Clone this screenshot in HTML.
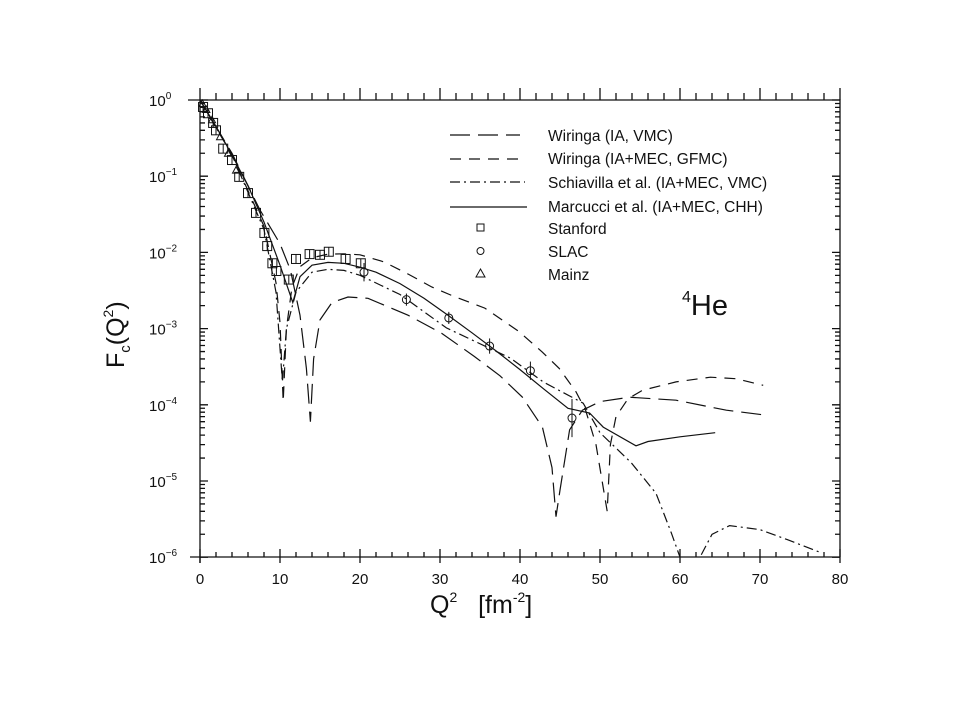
<!DOCTYPE html>
<html><head><meta charset="utf-8"><style>
body{margin:0;background:#fff}
svg text{font-family:"Liberation Sans",sans-serif;fill:#111}
</style></head><body>
<svg id="c" width="960" height="720" viewBox="0 0 960 720" xmlns="http://www.w3.org/2000/svg">
<defs><clipPath id="pa"><rect x="200" y="100" width="640" height="457"/></clipPath></defs>
<rect width="960" height="720" fill="#fff"/>
<g id="axes" stroke="#111" stroke-width="1.3" fill="none"></g>
<g id="series" clip-path="url(#pa)" fill="none" stroke="#111" stroke-width="1.2"></g>
<g id="pts" fill="none" stroke="#111" stroke-width="1"></g>
<g>
 <line x1="450" y1="135" x2="520" y2="135" stroke="#111" stroke-width="1.2" stroke-dasharray="20,8"/>
 <line x1="450" y1="159" x2="520" y2="159" stroke="#111" stroke-width="1.2" stroke-dasharray="11,8"/>
 <line x1="450" y1="182" x2="525" y2="182" stroke="#111" stroke-width="1.2" stroke-dasharray="10,4,2,4"/>
 <line x1="450" y1="207" x2="527" y2="207" stroke="#111" stroke-width="1.2"/>
 <rect x="477" y="224" width="7" height="7" fill="none" stroke="#111"/>
 <circle cx="480.5" cy="251" r="3.5" fill="none" stroke="#111"/>
 <path d="M476,277 L480.5,269 L485,277 Z" fill="none" stroke="#111"/>
 <g font-size="15.5" style="font-weight:500">
  <text x="548" y="141">Wiringa  (IA,  VMC)</text>
  <text x="548" y="164">Wiringa  (IA+MEC,  GFMC)</text>
  <text x="548" y="188">Schiavilla  et  al.  (IA+MEC,  VMC)</text>
  <text x="548" y="212">Marcucci  et  al.  (IA+MEC,  CHH)</text>
  <text x="548" y="234">Stanford</text>
  <text x="548" y="257">SLAC</text>
  <text x="548" y="280">Mainz</text>
 </g>
</g>
<text x="682" y="315" font-size="29"><tspan font-size="16" dy="-13">4</tspan><tspan dy="13">He</tspan></text>
<text x="430" y="613" font-size="25">Q<tspan font-size="14" dy="-11">2</tspan><tspan dy="11" xml:space="preserve">   [fm</tspan><tspan font-size="14" dy="-11">-2</tspan><tspan dy="11">]</tspan></text>
<text transform="translate(124,368) rotate(-90)" font-size="25">F<tspan font-size="15" dy="6">c</tspan><tspan dy="-6">(Q</tspan><tspan font-size="14" dy="-11">2</tspan><tspan dy="11">)</tspan></text>
</svg>
<script>
const marcucciQ=[0,2,4,6,8,10,11.6,12.5,14,16,18,20,22,25,28,31,34,37,40,43,46,48.7,50.4,54.5,56,60,64.4];
const marcucciF=[1,0.45,0.19,0.075,0.025,0.0068,0.0022,0.0048,0.0068,0.0074,0.0072,0.0064,0.0055,0.0039,0.0025,0.0015,0.00088,0.00051,0.00029,0.00016,9e-5,7.8e-5,5.1e-5,2.9e-5,3.3e-5,3.8e-5,4.3e-5];
const wiringaIAQ=[0,4,7.5,10,11.3,12.5,13.3,13.8,14.2,15,16.5,18.5,21,26,30.2,34.3,37.5,40.3,42.8,44,44.5,45,46.2,47.8,50,53.7,59.5,65.8,70.4];
const wiringaIAF=[1,0.2,0.036,0.013,0.0059,0.0015,3e-4,6e-5,4e-4,1.3e-3,2.2e-3,2.6e-3,2.5e-3,1.5e-3,8.7e-4,4.3e-4,2.4e-4,1.26e-4,5.1e-5,1.5e-5,3.4e-6,7.6e-6,4.7e-5,8.5e-5,1.1e-4,1.26e-4,1.15e-4,8.5e-5,7.4e-5];
const gfmcQ=[0,4,8,9.5,10,10.4,10.8,11.5,12.5,14,16,18,20,23,26,29,31.8,35.6,39.9,42.8,44.9,47,48.2,49.5,50.9,51.3,52,53.5,55.3,59.5,63.8,67,70.4];
const gfmcF=[1,0.19,0.022,0.004,0.0012,1.1e-4,1e-3,3.5e-3,6.5e-3,8.5e-3,9.5e-3,9.6e-3,9.3e-3,7.5e-3,5.2e-3,3.5e-3,2.63e-3,1.86e-3,9.1e-4,4.9e-4,3e-4,1.48e-4,8.5e-5,3e-5,4e-6,3e-5,7e-5,1.2e-4,1.55e-4,2e-4,2.3e-4,2.2e-4,1.8e-4];
const schiavillaQ=[0,4,8,9.5,10.3,10.8,12,14,16,18,20,25,30.8,38.8,42.9,47.9,50,53.9,57,58.9,60,61.2,62.5,64,66.2,70,73.4,77.6];
const schiavillaF=[1,0.19,0.02,0.003,2e-4,1e-3,3e-3,5.5e-3,6e-3,5.8e-3,5e-3,2.8e-3,1.02e-3,4.1e-4,2e-4,1.05e-4,4.3e-5,1.74e-5,6.9e-6,2.1e-6,1e-6,5e-7,1e-6,2e-6,2.6e-6,2.3e-6,1.7e-6,1.15e-6];
const stanfordQ=[0.38,1.0,1.64,2.0,2.9,4.0,4.9,6.0,7.0,8.05,8.4,9.05,9.55,11.1,12.0,13.7,15.0,16.1,18.2,20.1];
const stanfordF=[0.81,0.67,0.5,0.4,0.23,0.163,0.098,0.06,0.033,0.018,0.0121,0.0072,0.0057,0.0044,0.0082,0.0095,0.0093,0.0102,0.0082,0.0072];
const slacQ=[20.5,25.8,31.1,36.2,41.3,46.5];
const slacF=[0.0055,0.0024,0.00138,0.00059,0.00028,6.7e-5];
const slacErr=[0.12,0.08,0.08,0.1,0.12,0.25];
const mainzQ=[0.3,0.8,1.5,2.5,3.5,4.5];
const mainzF=[0.9,0.75,0.55,0.33,0.2,0.12];
const xTicks=[0,10,20,30,40,50,60,70,80];
const yExps=[0,-1,-2,-3,-4,-5,-6];

const NS='http://www.w3.org/2000/svg';
const X0=200,X1=840,Y0=100,DEC=76.2,YB=557;
const xs=q=>X0+(X1-X0)*q/80;
const ys=f=>Y0-DEC*Math.log10(f);
function mk(tag,attrs,parent){const e=document.createElementNS(NS,tag);for(const k in attrs)e.setAttribute(k,attrs[k]);parent.appendChild(e);return e;}
const ax=document.getElementById('axes');
const frame=mk('path',{d:`M188,${Y0}H${X1}V${YB}M${X0},${Y0}V${YB+6}M190,${YB}H${X1}`},ax);


let d='';
for(let q=0;q<=80;q+=2){const x=xs(q);const maj=q%10===0;
 d+=`M${x},${YB}V${YB-(maj?8:5)}`; if(maj)d+=`M${x},${YB}V${YB+6}`;
 d+=`M${x},${Y0}V${Y0-(maj?12:7)}`;}
for(let e=0;e>=-6;e--){const y0=ys(Math.pow(10,e));d+=`M${X0},${y0}H${X0+8}M${X1},${y0}H${X1-8}`;
 if(e>-6)for(let m=2;m<=9;m++){const y=ys(m*Math.pow(10,e-1));d+=`M${X0},${y}H${X0+5}M${X1},${y}H${X1-5}`;}}
const tk=mk('path',{d:d},ax);


const svg=document.getElementById('c');
xTicks.forEach(v=>{const t=mk('text',{x:xs(v),y:584,'font-size':'15','text-anchor':'middle'},svg);t.textContent=v;
 
 });
yExps.forEach(e=>{const t=mk('text',{x:149,y:ys(Math.pow(10,e))+6,'font-size':'15'},svg);
 
 
 t.innerHTML='10<tspan font-size="10" dy="-7">'+(e===0?'0':'\u2212'+(-e))+'</tspan>';});
const ser=document.getElementById('series');
function line(Q,F,dash,name){const p=mk('path',{d:Q.map((q,i)=>(i?'L':'M')+xs(q).toFixed(1)+','+ys(F[i]).toFixed(1)).join(''),'stroke-dasharray':dash},ser);
 
 }
line(wiringaIAQ,wiringaIAF,'20,8','line-wiringa-ia-vmc');
line(gfmcQ,gfmcF,'11,8','line-wiringa-ia-mec-gfmc');
line(schiavillaQ,schiavillaF,'10,4,2,4','line-schiavilla');
line(marcucciQ,marcucciF,'none','line-marcucci');
const pts=document.getElementById('pts');
stanfordQ.forEach((q,i)=>{const x=xs(q),y=ys(stanfordF[i]);
 const r=mk('rect',{x:x-4.5,y:y-4.5,width:9,height:9},pts);
 
 
 mk('line',{x1:x,x2:x,y1:y-4.5,y2:y+4.5},pts);});
slacQ.forEach((q,i)=>{const x=xs(q),y=ys(slacF[i]);
 const c=mk('circle',{cx:x,cy:y,r:4},pts);
 
 
 mk('line',{x1:x,x2:x,y1:y-DEC*slacErr[i],y2:y+DEC*slacErr[i]},pts);});
mainzQ.forEach((q,i)=>{const x=xs(q),y=ys(mainzF[i]);
 const t=mk('path',{d:`M${x-3.5},${y+3}L${x},${y-3.5}L${x+3.5},${y+3}Z`},pts);
 
 });
</script>
</body></html>
